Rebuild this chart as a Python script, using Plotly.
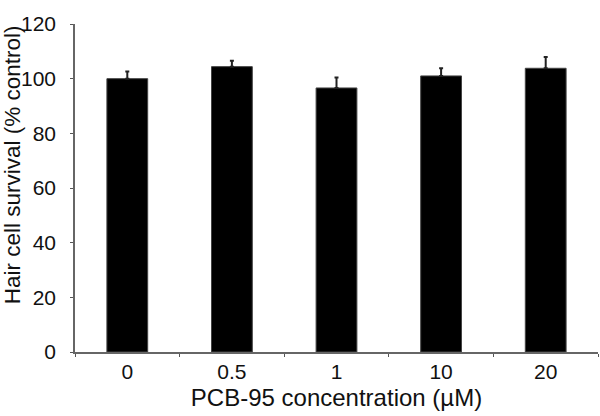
import plotly.graph_objects as go

categories = ["0", "0.5", "1", "10", "20"]
survival = [100.0, 104.4, 96.6, 101.0, 103.8]
sem = [2.6, 2.2, 3.8, 2.8, 4.1]
y_ticks = [0, 20, 40, 60, 80, 100, 120]

fig = go.Figure()
fig.add_trace(go.Bar(
    x=categories, y=survival,
    marker=dict(color="black", line=dict(color="#444", width=1)),
    width=0.39,
    error_y=dict(type="data", array=sem, symmetric=False, arrayminus=[0]*len(sem),
                 color="#222", thickness=2, width=2),
))

font = "Liberation Sans, Arial, sans-serif"
fig.update_layout(
    width=600, height=416,
    margin=dict(l=75, r=2, t=24, b=64),
    paper_bgcolor="white", plot_bgcolor="white",
    showlegend=False,
    font=dict(family=font, size=20, color="#111"),
    xaxis=dict(
        type="category", tickson="boundaries", ticks="outside", ticklen=3,
        tickcolor="#555", showline=True, linecolor="#666", linewidth=1.5,
        showgrid=False, tickfont=dict(size=21),
        title=dict(text="PCB-95 concentration (µM)", font=dict(size=24), standoff=7),
    ),
    yaxis=dict(
        range=[0, 120], tickvals=y_ticks, ticks="outside", ticklen=3,
        tickcolor="#555", showline=True, linecolor="#666", linewidth=1.5,
        showgrid=False, zeroline=False, tickfont=dict(size=21),
        ticklabelstandoff=10,
    ),
    annotations=[dict(
        text="Hair cell survival (% control)", textangle=-90,
        xref="paper", yref="paper", x=-0.12, y=0.57,
        xanchor="center", yanchor="middle", showarrow=False,
        font=dict(size=22.5, family=font, color="#111"),
    )],
)
fig.write_html("out.html", config={"displayModeBar": False},
               post_script="document.body.style.margin='0';")
